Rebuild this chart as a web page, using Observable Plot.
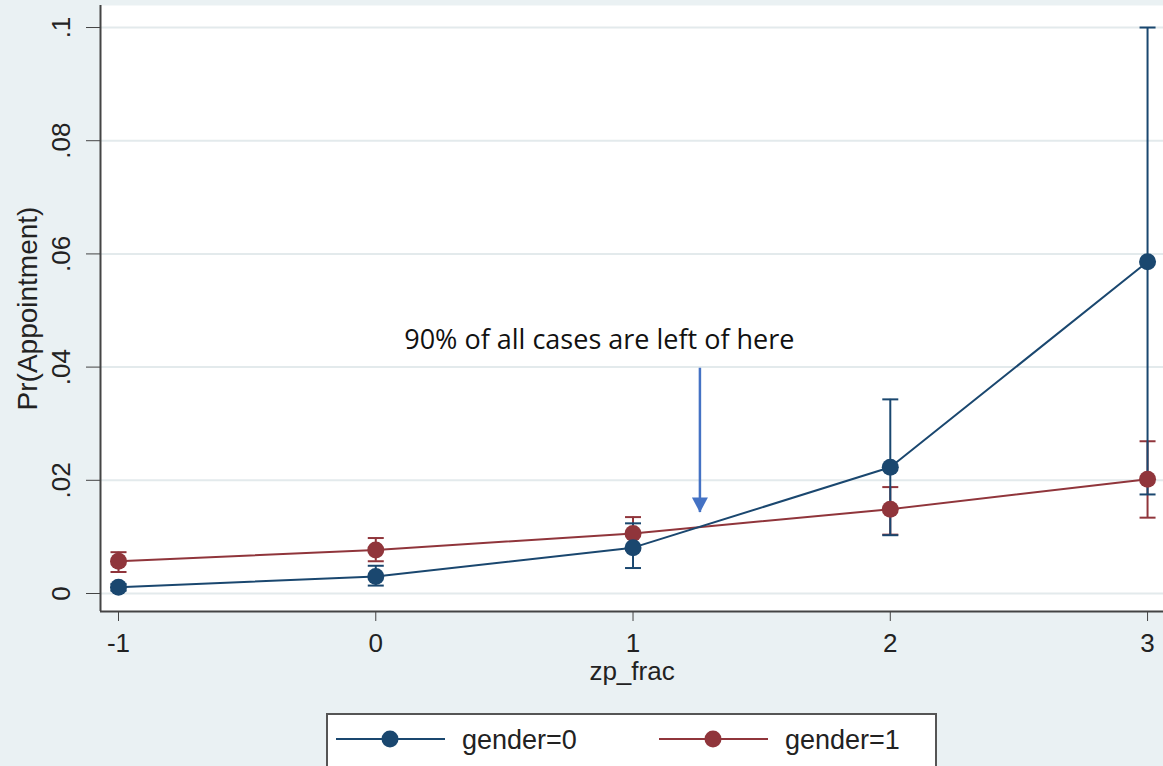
<!DOCTYPE html>
<html>
<head>
<meta charset="utf-8">
<script src="https://cdn.jsdelivr.net/npm/d3@7"></script>
<script src="https://cdn.jsdelivr.net/npm/@observablehq/plot@0.6"></script>
<style>
  html, body { margin: 0; padding: 0; background: #eaf1f3; width: 1163px; height: 766px; overflow: hidden; }
  #chart { position: absolute; left: 0; top: 0; }
  #legend { position: absolute; left: 326px; top: 713px; width: 607px; height: 70px; background: #fff; border: 2px solid #555; font-family: "Liberation Sans", Arial, sans-serif; }
</style>
</head>
<body>
<div id="chart"></div>
<div id="legend"></div>
<script>
// ---- data ----
const xs = [-1, 0, 1, 2, 3];
const gender0   = [0.0011, 0.0030, 0.0081, 0.0223, 0.0586];
const gender0Lo = [0.0005, 0.0014, 0.0045, 0.0103, 0.0175];
const gender0Hi = [0.0017, 0.0049, 0.0124, 0.0343, 0.1000];
const gender1   = [0.0057, 0.0077, 0.0106, 0.0149, 0.0202];
const gender1Lo = [0.0038, 0.0057, 0.0077, 0.0104, 0.0134];
const gender1Hi = [0.0073, 0.0098, 0.0135, 0.0188, 0.0269];
const xTicks = [-1, 0, 1, 2, 3];
const yTicks = [0, 0.02, 0.04, 0.06, 0.08, 0.1];
const seriesNames = ["gender=0", "gender=1"];
const seriesColors = ["#1a476f", "#90353b"];
const annotation = [{x: 0.869, y: 0.0448, text: "90% of all cases are left of here"}];
const arrowData = [{x: 1.26, y1: 0.0398, y2: 0.0143}];
const xDomain = [-1.07, 3.062];
const yDomain = [-0.00318, 0.10389];

// ---- build ----
const rows0 = xs.map((x, i) => ({x, y: gender0[i], lo: gender0Lo[i], hi: gender0Hi[i]}));
const rows1 = xs.map((x, i) => ({x, y: gender1[i], lo: gender1Lo[i], hi: gender1Hi[i]}));

const capSymbol = {draw(ctx) { ctx.moveTo(-8, 0); ctx.lineTo(8, 0); }};
const headSymbol = {draw(ctx) { ctx.moveTo(-8, -15); ctx.lineTo(8, -15); ctx.lineTo(0, 0); ctx.closePath(); }};
const fmtY = d => String(d).replace(/^0\./, ".");

function ciMarks(rows, color) {
  return [
    Plot.ruleX(rows, {x: "x", y1: "lo", y2: "hi", stroke: color, strokeWidth: 2}),
    Plot.dot(rows, {x: "x", y: "lo", symbol: capSymbol, stroke: color, strokeWidth: 2, fill: "none"}),
    Plot.dot(rows, {x: "x", y: "hi", symbol: capSymbol, stroke: color, strokeWidth: 2, fill: "none"})
  ];
}

const chart = Plot.plot({
  width: 1163,
  height: 705,
  marginLeft: 100,
  marginRight: 0,
  marginTop: 5,
  marginBottom: 94,
  style: {background: "transparent", fontFamily: "'Liberation Sans', Arial, sans-serif", fontSize: "26px", color: "#222"},
  x: {domain: xDomain},
  y: {domain: yDomain},
  marks: [
    Plot.frame({fill: "white", stroke: "none"}),
    Plot.gridY(yTicks, {stroke: "#e3eaec", strokeOpacity: 1, strokeWidth: 2}),
    Plot.axisX(xTicks, {tickSize: 10, tickPadding: 12, tickFormat: d => String(d), label: null, stroke: "#444", fontSize: 26}),
    Plot.axisY(yTicks, {tickSize: 14, tickFormat: () => "", label: null, stroke: "#444"}),
    Plot.text(yTicks, {y: d => d, frameAnchor: "left", textAnchor: "middle", dx: -39, rotate: -90, text: fmtY, fontSize: 26, fill: "#222"}),
    Plot.text(["Pr(Appointment)"], {frameAnchor: "left", textAnchor: "middle", dx: -72, rotate: -90, fontSize: 28, fill: "#222"}),
    Plot.text(["zp_frac"], {frameAnchor: "bottom", textAnchor: "middle", dy: 68, fontSize: 26, fill: "#222"}),
    Plot.ruleX([xDomain[0]], {stroke: "#444", strokeWidth: 2}),
    Plot.ruleY([yDomain[0]], {stroke: "#444", strokeWidth: 2}),
    ...ciMarks(rows1, seriesColors[1]),
    ...ciMarks(rows0, seriesColors[0]),
    Plot.line(rows1, {x: "x", y: "y", stroke: seriesColors[1], strokeWidth: 2}),
    Plot.line(rows0, {x: "x", y: "y", stroke: seriesColors[0], strokeWidth: 2}),
    Plot.dot(rows1, {x: "x", y: "y", r: 8.5, fill: seriesColors[1]}),
    Plot.dot(rows0, {x: "x", y: "y", r: 8.5, fill: seriesColors[0]}),
    Plot.ruleX(arrowData, {x: "x", y1: "y1", y2: "y2", stroke: "#4472c4", strokeWidth: 2.5}),
    Plot.dot(arrowData, {x: "x", y: "y2", symbol: headSymbol, fill: "#4472c4", stroke: "none"}),
    Plot.text(annotation, {x: "x", y: "y", text: "text", fontSize: 27, fontFamily: "'Open Sans', Lato, sans-serif", fill: "#111"})
  ]
});
document.getElementById("chart").appendChild(chart);

// ---- legend ----
const ns = "http://www.w3.org/2000/svg";
const lg = document.createElementNS(ns, "svg");
lg.setAttribute("width", 607); lg.setAttribute("height", 70);
const keyStarts = [8, 331];
seriesNames.forEach((name, i) => {
  const x0 = keyStarts[i];
  const line = document.createElementNS(ns, "line");
  line.setAttribute("x1", x0); line.setAttribute("x2", x0 + 109);
  line.setAttribute("y1", 24); line.setAttribute("y2", 24);
  line.setAttribute("stroke", seriesColors[i]); line.setAttribute("stroke-width", 2);
  lg.appendChild(line);
  const c = document.createElementNS(ns, "circle");
  c.setAttribute("cx", x0 + 54); c.setAttribute("cy", 24); c.setAttribute("r", 8.5);
  c.setAttribute("fill", seriesColors[i]);
  lg.appendChild(c);
  const t = document.createElementNS(ns, "text");
  t.setAttribute("x", x0 + 126); t.setAttribute("y", 34);
  t.setAttribute("font-size", 27); t.setAttribute("fill", "#222");
  t.setAttribute("font-family", "'Liberation Sans', Arial, sans-serif");
  t.textContent = name;
  lg.appendChild(t);
});
document.getElementById("legend").appendChild(lg);
</script>
</body>
</html>
